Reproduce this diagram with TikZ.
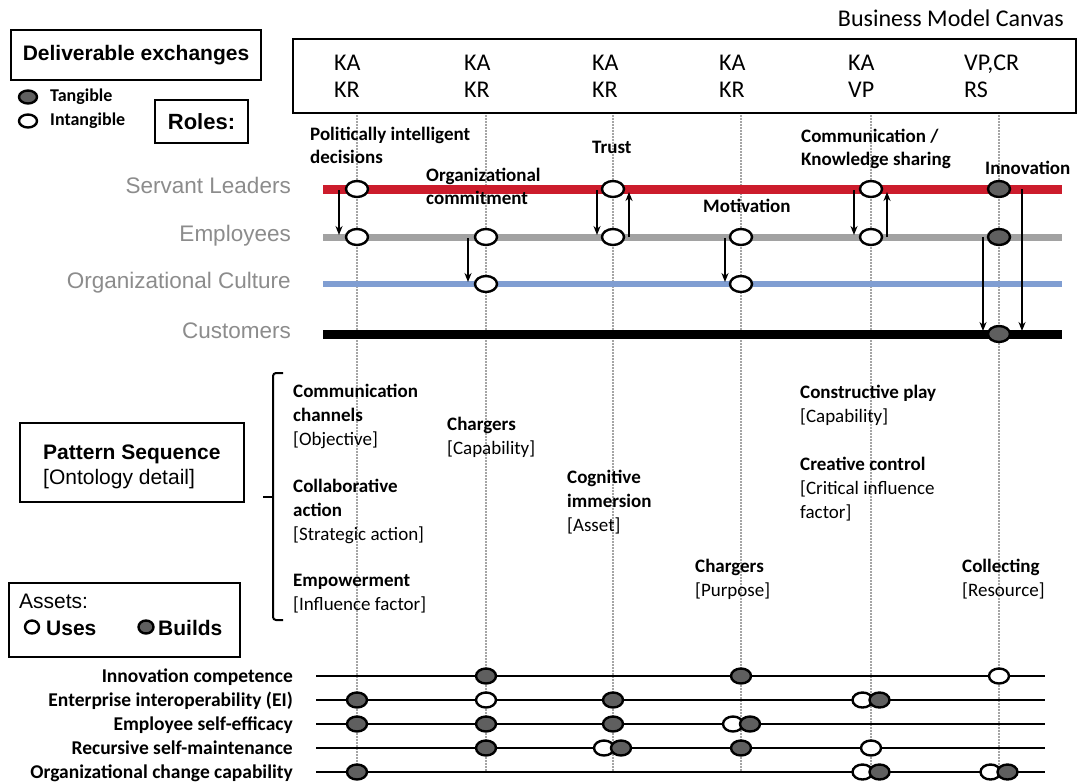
\documentclass[tikz,border=0pt]{standalone}
\usepackage{fontspec}
\setmainfont{Carlito}
\newfontfamily\arialfont{Liberation Sans}
\usetikzlibrary{arrows.meta,shapes.geometric}

\definecolor{servantred}{RGB}{204,28,44}
\definecolor{employeegray}{RGB}{162,162,162}
\definecolor{cultureblue}{RGB}{128,158,210}
\definecolor{rolegray}{RGB}{140,140,140}
\definecolor{guidegray}{RGB}{165,165,165}
\definecolor{tangfill}{RGB}{95,95,95}

\begin{document}
\begin{tikzpicture}[x=1pt,y=-1pt,
  frame/.style={draw=black,line width=2.4pt,inner sep=0pt},
  guideline/.style={draw=guidegray,line width=1.1pt,dash pattern=on 1.6pt off 1.4pt},
  rolelabel/.style={font=\arialfont\fontsize{22.5}{24}\selectfont,text=rolegray,anchor=base east,inner sep=0pt},
  exlabel/.style={font=\bfseries\fontsize{19}{22.5}\selectfont,align=left,anchor=north west,inner sep=0pt},
  patlabel/.style={font=\fontsize{19}{24}\selectfont,align=left,anchor=north west,inner sep=0pt},
  bmc/.style={font=\fontsize{24}{26}\selectfont,anchor=base west,inner sep=0pt},
  intang/.style={ellipse,draw=black,fill=white,line width=2.4pt,minimum width=22pt,minimum height=16pt,inner sep=0pt},
  tang/.style={intang,fill=tangfill},
  asset/.style={ellipse,draw=black,fill=white,line width=2.4pt,minimum width=20pt,minimum height=15pt,inner sep=0pt},
  assetb/.style={asset,fill=tangfill},
  flow/.style={draw=black,line width=1.6pt,-{Stealth[length=9pt,width=7pt]}},
  roleline/.style={line width=#1},
  assetrow/.style={draw=black,line width=2.4pt},
  assetname/.style={font=\bfseries\fontsize{19.5}{21}\selectfont,anchor=base east,inner sep=0pt},
]
\fill[white] (0,0) rectangle (1079,782);
\useasboundingbox (0,0) rectangle (1079,782);

% dotted column guides
\foreach \x/\n in {357/1,486/2,613/3,741/4,871/5,999/6}{
  \coordinate (gt\n) at (\x,112);
  \coordinate (gb\n) at (\x,772);
  \draw[guideline] (gt\n) -- (gb\n);
}

% Business Model Canvas header
\node[bmc,anchor=base east] (bmctitle) at (1064,26) {Business Model Canvas};
\node[frame,minimum width=783pt,minimum height=74pt,anchor=north west] (canvas) at (292,38) {};
\foreach \x/\a/\b/\n in {334/KA/KR/1,464/KA/KR/2,592/KA/KR/3,719/KA/KR/4,848/KA/VP/5,964/{VP,CR}/RS/6}{
  \node[bmc] (bmca\n) at (\x,70) {\a};
  \node[bmc] (bmcb\n) at (\x,97) {\b};
}

% legend: deliverable exchanges and roles
\node[frame,minimum width=250pt,minimum height=50pt,font=\arialfont\bfseries\fontsize{21}{24}\selectfont] (deliv) at (136,55) {Deliverable exchanges};
\node[tang,minimum width=18pt,minimum height=13pt] (legt) at (28,97) {};
\node[font=\bfseries\fontsize{18}{20}\selectfont,anchor=west,inner sep=0pt] (legtl) at (50,97) {Tangible};
\node[intang,minimum width=18pt,minimum height=13pt] (legi) at (28,121) {};
\node[font=\bfseries\fontsize{18}{20}\selectfont,anchor=west,inner sep=0pt] (legil) at (50,121) {Intangible};
\node[frame,minimum width=93pt,minimum height=43pt,font=\arialfont\bfseries\fontsize{22}{24}\selectfont] (roles) at (201.5,121.5) {Roles:};

% role swim lines
\foreach \n/\y/\c/\w/\txt in {s/189/servantred/9pt/Servant Leaders,e/237/employeegray/7pt/Employees,c/284/cultureblue/6pt/Organizational Culture,k/334/black/9pt/Customers}{
  \node[rolelabel] (lbl\n) at (291,{\y+4}) {\txt};
  \coordinate (L\n-a) at (323,\y);
  \coordinate (L\n-b) at (1062,\y);
  \draw[roleline=\w,draw=\c] (L\n-a) -- (L\n-b);
}

% exchange arrows
\coordinate (f1a) at (339,190); \coordinate (f1b) at (339,235);
\coordinate (f2a) at (468,238); \coordinate (f2b) at (468,282);
\coordinate (f3a) at (597,190); \coordinate (f3b) at (597,235);
\coordinate (f3c) at (629,237); \coordinate (f3d) at (629,192);
\coordinate (f4a) at (725,238); \coordinate (f4b) at (725,282);
\coordinate (f5a) at (854,190); \coordinate (f5b) at (854,235);
\coordinate (f5c) at (887,237); \coordinate (f5d) at (887,192);
\coordinate (f6a) at (983,237); \coordinate (f6b) at (983,331);
\coordinate (f6c) at (1022,189); \coordinate (f6d) at (1022,331);
\draw[flow] (f1a) -- (f1b);
\draw[flow] (f2a) -- (f2b);
\draw[flow] (f3a) -- (f3b);
\draw[flow] (f3c) -- (f3d);
\draw[flow] (f4a) -- (f4b);
\draw[flow] (f5a) -- (f5b);
\draw[flow] (f5c) -- (f5d);
\draw[flow] (f6a) -- (f6b);
\draw[flow] (f6c) -- (f6d);

% deliverables on the role lines
\node[intang] (m1s) at (357,189) {};
\node[intang] (m1e) at (357,237) {};
\node[intang] (m2e) at (486,237) {};
\node[intang] (m2c) at (486,284) {};
\node[intang] (m3s) at (613,189) {};
\node[intang] (m3e) at (613,237) {};
\node[intang] (m4e) at (741,237) {};
\node[intang] (m4c) at (741,284) {};
\node[intang] (m5s) at (871,189) {};
\node[intang] (m5e) at (871,237) {};
\node[tang] (m6s) at (999,189) {};
\node[tang] (m6e) at (999,237) {};
\node[tang] (m6k) at (999,334) {};

% exchange names
\node[exlabel] (x1) at (310,127) {Politically intelligent\\decisions};
\node[exlabel] (x2) at (426,168) {Organizational\\commitment};
\node[exlabel] (x3) at (592,141) {Trust};
\node[exlabel] (x4) at (703,199) {Motivation};
\node[exlabel] (x5) at (801,129) {Communication /\\Knowledge sharing};
\node[exlabel] (x6) at (985,161) {Innovation};

% pattern sequence legend and brace
\node[frame,minimum width=224pt,minimum height=79pt,anchor=north west] (patbox) at (19,422) {};
\node[font=\arialfont\fontsize{21}{25}\selectfont,align=left,anchor=north west,inner sep=0pt] (pattxt) at (43,445) {\textbf{Pattern Sequence}\\{[}Ontology detail]};
\coordinate (brtop) at (283,373);
\coordinate (brbot) at (283,620);
\coordinate (brmid) at (273,497);
\coordinate (brtip) at (263,497);
\draw[line width=2pt,rounded corners=3pt] (brtop) -- (273,373) -- (273,620) -- (brbot);
\draw[line width=2pt] (brmid) -- (brtip);

% pattern sequence details
\node[patlabel] (p1) at (293,384) {\textbf{Communication}\\\textbf{channels}\\{[}Objective]};
\node[patlabel] (p2) at (293,479) {\textbf{Collaborative}\\\textbf{action}\\{[}Strategic action]};
\node[patlabel] (p3) at (293,574) {\textbf{Empowerment}\\{[}Influence factor]};
\node[patlabel] (p4) at (447,417) {\textbf{Chargers}\\{[}Capability]};
\node[patlabel] (p5) at (567,470) {\textbf{Cognitive}\\\textbf{immersion}\\{[}Asset]};
\node[patlabel] (p6) at (695,559) {\textbf{Chargers}\\{[}Purpose]};
\node[patlabel] (p7) at (800,385) {\textbf{Constructive play}\\{[}Capability]};
\node[patlabel] (p8) at (800,457) {\textbf{Creative control}\\{[}Critical influence\\factor]};
\node[patlabel] (p9) at (962,559) {\textbf{Collecting}\\{[}Resource]};

% assets legend
\node[frame,minimum width=231pt,minimum height=74pt,anchor=north west] (assetbox) at (8,582) {};
\node[font=\arialfont\fontsize{21}{24}\selectfont,anchor=west,inner sep=0pt] (assetstitle) at (19,601) {Assets:};
\node[asset,minimum width=14pt,minimum height=13pt] (leguse) at (32,627) {};
\node[font=\arialfont\bfseries\fontsize{21}{24}\selectfont,anchor=west,inner sep=0pt] (legusel) at (46,628) {Uses};
\node[assetb,minimum width=15pt,minimum height=13pt] (legbuild) at (146,627) {};
\node[font=\arialfont\bfseries\fontsize{21}{24}\selectfont,anchor=west,inner sep=0pt] (legbuildl) at (158,628) {Builds};

% asset rows
\foreach \n/\y/\txt in {1/676/Innovation competence,2/700/Enterprise interoperability (EI),3/724/Employee self-efficacy,4/748/Recursive self-maintenance,5/772/Organizational change capability}{
  \node[assetname] (an\n) at (293,{\y+6}) {\txt};
  \coordinate (ar\n-a) at (316,\y);
  \coordinate (ar\n-b) at (1045,\y);
  \draw[assetrow] (ar\n-a) -- (ar\n-b);
}

% asset use/build markers
\node[assetb] (a1b) at (486,676) {};
\node[assetb] (a1d) at (741,676) {};
\node[asset]  (a1f) at (999,676) {};

\node[assetb] (a2a) at (357,700) {};
\node[asset]  (a2b) at (486,700) {};
\node[assetb] (a2c) at (613,700) {};
\node[asset]  (a2e) at (862.5,700) {};
\node[assetb] (a2e2) at (879.5,700) {};

\node[assetb] (a3a) at (357,724) {};
\node[assetb] (a3b) at (486,724) {};
\node[assetb] (a3c) at (613,724) {};
\node[asset]  (a3d) at (733,724) {};
\node[assetb] (a3d2) at (750,724) {};

\node[assetb] (a4b) at (486,748) {};
\node[asset]  (a4c) at (604,748) {};
\node[assetb] (a4c2) at (621,748) {};
\node[assetb] (a4d) at (741,748) {};
\node[asset]  (a4e) at (871,748) {};

\node[assetb] (a5a) at (357,772) {};
\node[asset]  (a5e) at (862.5,772) {};
\node[assetb] (a5e2) at (879.5,772) {};
\node[asset]  (a5f) at (990.5,772) {};
\node[assetb] (a5f2) at (1007.5,772) {};
\end{tikzpicture}
\end{document}
